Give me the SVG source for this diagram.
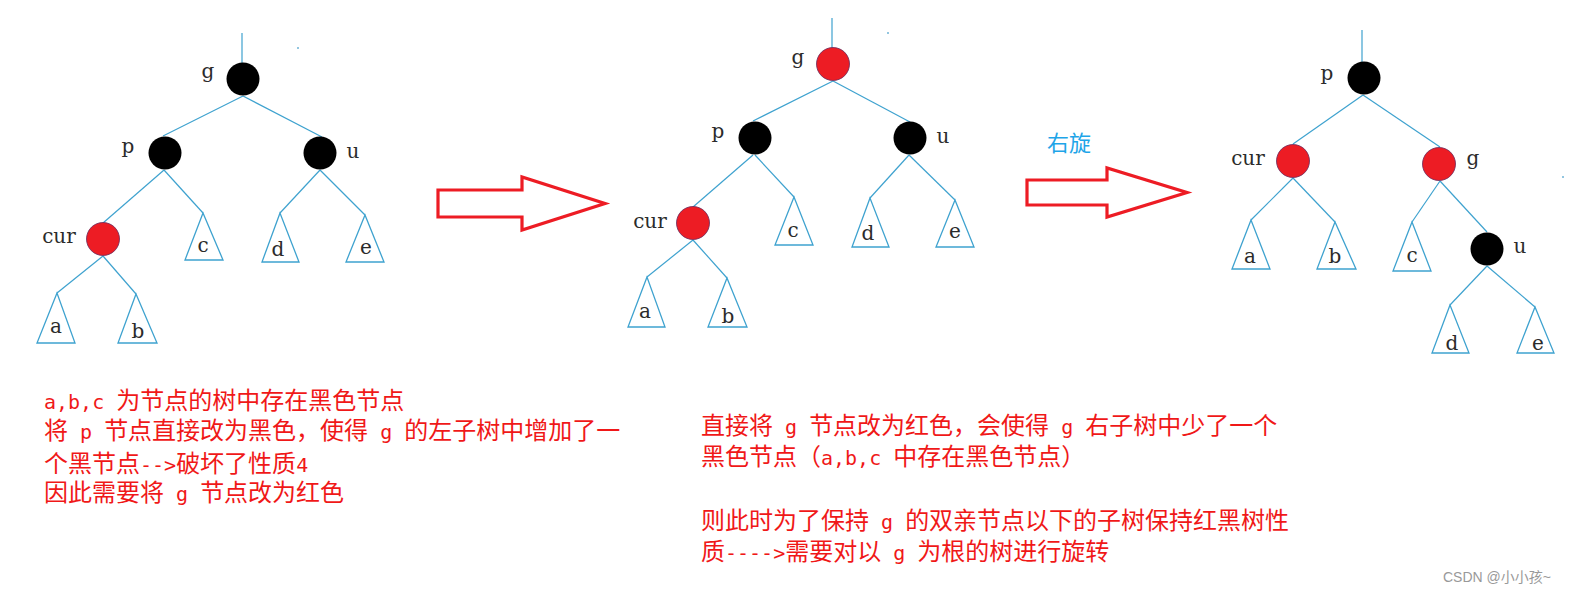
<svg xmlns="http://www.w3.org/2000/svg" width="1575" height="596" viewBox="0 0 1575 596">
<style>
.edge{stroke:#3ea2cf;stroke-width:1.2;fill:none}
.tri{stroke:#3ea2cf;stroke-width:1.3;fill:#fff;stroke-linejoin:miter}
.blk{fill:#000}
.red{fill:#ed1c24;stroke:#6a2a5a;stroke-width:0.8}
.lbl{font-family:"DejaVu Serif",serif;font-size:20px;fill:#2b2b2b;text-anchor:middle}
.note{fill:#f01818}
.cjk{font-family:"Noto Sans CJK SC",sans-serif;font-size:24px}
.lat{font-family:"DejaVu Sans Mono",monospace;font-size:20px}
.arrow{fill:none;stroke:#ed1c24;stroke-width:3.2;stroke-linejoin:miter}
.dot{fill:#6fb3d6}
</style>
<rect width="1575" height="596" fill="#fff"/>

<!-- ===== Left tree ===== -->
<g id="left-connectors">
<line class="edge" x1="242" y1="33" x2="242" y2="63"/>
<line class="edge" x1="243" y1="96" x2="163" y2="136"/>
<line class="edge" x1="243" y1="96" x2="322" y2="137"/>
<line class="edge" x1="164" y1="170" x2="103" y2="223"/>
<line class="edge" x1="164" y1="170" x2="203" y2="213"/>
<line class="edge" x1="320" y1="170" x2="280" y2="213"/>
<line class="edge" x1="320" y1="170" x2="365" y2="215"/>
<line class="edge" x1="103" y1="256" x2="57" y2="293"/>
<line class="edge" x1="103" y1="256" x2="136" y2="294"/>
</g>
<g id="L-g"><circle class="blk" cx="243" cy="79" r="16.5"/><text class="lbl" x="208" y="78">g</text></g>
<g id="L-p"><circle class="blk" cx="165" cy="153" r="16.5"/><text class="lbl" x="128" y="153">p</text></g>
<g id="L-u"><circle class="blk" cx="320" cy="153" r="16.5"/><text class="lbl" x="353" y="158">u</text></g>
<g id="L-cur"><circle class="red" cx="103" cy="239" r="16.5"/><text class="lbl" x="59" y="243">cur</text></g>
<g id="L-a"><polygon class="tri" points="57,293 37,343 75,343"/><text class="lbl" x="56" y="333">a</text></g>
<g id="L-b"><polygon class="tri" points="136,294 118,343 157,343"/><text class="lbl" x="138" y="338">b</text></g>
<g id="L-c"><polygon class="tri" points="203,213 185,260 223,260"/><text class="lbl" x="203" y="252">c</text></g>
<g id="L-d"><polygon class="tri" points="280,213 262,262 299,262"/><text class="lbl" x="278" y="256">d</text></g>
<g id="L-e"><polygon class="tri" points="365,215 346,262 384,262"/><text class="lbl" x="366" y="254">e</text></g>
<circle class="dot" cx="298" cy="48" r="1"/>

<!-- ===== Arrow 1 ===== -->
<g id="arrow1"><polygon class="arrow" points="438,190 522,190 522,177 605,203.5 522,230 522,217 438,217"/></g>

<!-- ===== Middle tree ===== -->
<g id="mid-connectors">
<line class="edge" x1="832" y1="18" x2="832" y2="48"/>
<line class="edge" x1="833" y1="81" x2="753" y2="121"/>
<line class="edge" x1="833" y1="81" x2="910" y2="122"/>
<line class="edge" x1="753" y1="155" x2="693" y2="207"/>
<line class="edge" x1="755" y1="155" x2="794" y2="197"/>
<line class="edge" x1="909" y1="155" x2="870" y2="198"/>
<line class="edge" x1="909" y1="155" x2="955" y2="200"/>
<line class="edge" x1="693" y1="240" x2="647" y2="277"/>
<line class="edge" x1="693" y1="240" x2="727" y2="278"/>
</g>
<g id="M-g"><circle class="red" cx="833" cy="64" r="16.5"/><text class="lbl" x="798" y="64">g</text></g>
<g id="M-p"><circle class="blk" cx="755" cy="138" r="16.5"/><text class="lbl" x="718" y="138">p</text></g>
<g id="M-u"><circle class="blk" cx="910" cy="138" r="16.5"/><text class="lbl" x="943" y="143">u</text></g>
<g id="M-cur"><circle class="red" cx="693" cy="223" r="16.5"/><text class="lbl" x="650" y="228">cur</text></g>
<g id="M-a"><polygon class="tri" points="647,277 628,327 665,327"/><text class="lbl" x="645" y="318">a</text></g>
<g id="M-b"><polygon class="tri" points="727,278 708,327 747,327"/><text class="lbl" x="728" y="323">b</text></g>
<g id="M-c"><polygon class="tri" points="794,197 775,245 813,245"/><text class="lbl" x="793" y="237">c</text></g>
<g id="M-d"><polygon class="tri" points="870,198 852,247 889,247"/><text class="lbl" x="868" y="240">d</text></g>
<g id="M-e"><polygon class="tri" points="955,200 936,247 974,247"/><text class="lbl" x="955" y="238">e</text></g>
<circle class="dot" cx="888" cy="33" r="1"/>

<!-- ===== Arrow 2 ===== -->
<g id="arrow2">
<polygon class="arrow" points="1027,180 1107,180 1107,168 1187,192.5 1107,217 1107,205 1027,205"/>
<text x="1047" y="151" font-family="Noto Sans CJK SC, sans-serif" font-size="22" fill="#1ea5e8">右旋</text>
</g>

<!-- ===== Right tree ===== -->
<g id="right-connectors">
<line class="edge" x1="1362" y1="30" x2="1362" y2="62"/>
<line class="edge" x1="1363" y1="95" x2="1293" y2="144"/>
<line class="edge" x1="1363" y1="95" x2="1440" y2="147"/>
<line class="edge" x1="1293" y1="178" x2="1251" y2="220"/>
<line class="edge" x1="1293" y1="178" x2="1335" y2="222"/>
<line class="edge" x1="1440" y1="181" x2="1412" y2="222"/>
<line class="edge" x1="1440" y1="181" x2="1487" y2="232"/>
<line class="edge" x1="1487" y1="266" x2="1450" y2="305"/>
<line class="edge" x1="1487" y1="266" x2="1535" y2="307"/>
</g>
<g id="R-p"><circle class="blk" cx="1364" cy="78" r="16.5"/><text class="lbl" x="1327" y="80">p</text></g>
<g id="R-cur"><circle class="red" cx="1293" cy="161" r="16.5"/><text class="lbl" x="1248" y="165">cur</text></g>
<g id="R-g"><circle class="red" cx="1439" cy="164" r="16.5"/><text class="lbl" x="1473" y="165">g</text></g>
<g id="R-u"><circle class="blk" cx="1487" cy="249" r="16.5"/><text class="lbl" x="1520" y="253">u</text></g>
<g id="R-a"><polygon class="tri" points="1251,220 1232,269 1270,269"/><text class="lbl" x="1250" y="263">a</text></g>
<g id="R-b"><polygon class="tri" points="1335,222 1317,269 1356,269"/><text class="lbl" x="1335" y="263">b</text></g>
<g id="R-c"><polygon class="tri" points="1412,222 1393,271 1431,271"/><text class="lbl" x="1412" y="262">c</text></g>
<g id="R-d"><polygon class="tri" points="1450,305 1432,353 1469,353"/><text class="lbl" x="1452" y="350">d</text></g>
<g id="R-e"><polygon class="tri" points="1535,307 1517,353 1554,353"/><text class="lbl" x="1538" y="350">e</text></g>
<circle class="dot" cx="1563" cy="177" r="1"/>

<!-- ===== Notes ===== -->
<g id="note-left" class="note">
<text x="44" y="409" xml:space="preserve"><tspan class="lat">a,b,c </tspan><tspan class="cjk">为节点的树中存在黑色节点</tspan></text>
<text x="44" y="439" xml:space="preserve"><tspan class="cjk">将</tspan><tspan class="lat"> p </tspan><tspan class="cjk">节点直接改为黑色，使得</tspan><tspan class="lat"> g </tspan><tspan class="cjk">的左子树中增加了一</tspan></text>
<text x="44" y="472" xml:space="preserve"><tspan class="cjk">个黑节点</tspan><tspan class="lat">--&gt;</tspan><tspan class="cjk">破坏了性质</tspan><tspan class="lat">4</tspan></text>
<text x="44" y="501" xml:space="preserve"><tspan class="cjk">因此需要将</tspan><tspan class="lat"> g </tspan><tspan class="cjk">节点改为红色</tspan></text>
</g>
<g id="note-right" class="note">
<text x="701" y="434" xml:space="preserve"><tspan class="cjk">直接将</tspan><tspan class="lat"> g </tspan><tspan class="cjk">节点改为红色，会使得</tspan><tspan class="lat"> g </tspan><tspan class="cjk">右子树中少了一个</tspan></text>
<text x="701" y="465" xml:space="preserve"><tspan class="cjk">黑色节点（</tspan><tspan class="lat">a,b,c </tspan><tspan class="cjk">中存在黑色节点）</tspan></text>
<text x="701" y="529" xml:space="preserve"><tspan class="cjk">则此时为了保持</tspan><tspan class="lat"> g </tspan><tspan class="cjk">的双亲节点以下的子树保持红黑树性</tspan></text>
<text x="701" y="560" xml:space="preserve"><tspan class="cjk">质</tspan><tspan class="lat">----&gt;</tspan><tspan class="cjk">需要对以</tspan><tspan class="lat"> g </tspan><tspan class="cjk">为根的树进行旋转</tspan></text>
</g>

<text id="watermark" x="1443" y="582" font-family="Liberation Sans, Noto Sans CJK SC, sans-serif" font-size="14" fill="#999">CSDN @小小孩~</text>
</svg>
